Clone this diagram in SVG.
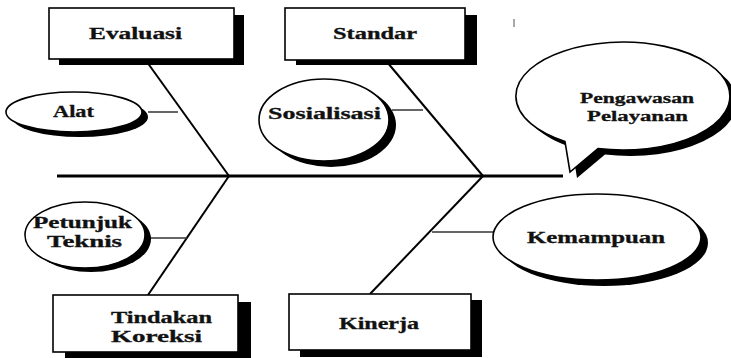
<svg xmlns="http://www.w3.org/2000/svg" width="731" height="358" viewBox="0 0 731 358">
  <style>
    .box { fill: #fff; stroke: #000; stroke-width: 1.6; }
    .shadow { fill: #000; stroke: none; }
    .oval { fill: #fff; stroke: #000; stroke-width: 1.6; }
    .lbl { font-family: "Liberation Serif", "Times New Roman", serif; font-weight: bold; font-size: 16.5px; fill: #111; stroke: #111; stroke-width: 0.3; }
    .lbl2 { font-size: 15.5px; }
    .spine { stroke: #000; stroke-width: 3; fill: none; }
    .bone { stroke: #000; stroke-width: 2; fill: none; }
    .rib { stroke: #333; stroke-width: 1.5; fill: none; }
  </style>

  <rect width="731" height="358" fill="#fff"/>

  <!-- connectors: spine, main bones and small ribs -->
  <g id="connectors">
    <line class="spine" x1="57" y1="176" x2="563" y2="176"/>
    <line class="bone" x1="147" y1="62" x2="229" y2="176"/>
    <line class="bone" x1="387" y1="62" x2="483" y2="176"/>
    <line class="bone" x1="229" y1="176" x2="148" y2="295"/>
    <line class="bone" x1="483" y1="176" x2="370" y2="294"/>
    <line class="rib" x1="148" y1="112" x2="178" y2="112"/>
    <line class="rib" x1="392" y1="110" x2="423" y2="110"/>
    <line class="rib" x1="150" y1="238" x2="187" y2="238"/>
    <line class="rib" x1="432" y1="232" x2="495" y2="232"/>
  </g>

  <!-- labels are stretched horizontally: scale(1.5,1) with textLength in local units -->
  <g id="evaluasi">
    <rect class="shadow" x="59" y="15" width="185" height="50"/>
    <rect class="box" x="49" y="8" width="185" height="51"/>
    <text class="lbl" transform="translate(135.5,39) scale(1.5,1)" text-anchor="middle" textLength="62" lengthAdjust="spacingAndGlyphs">Evaluasi</text>
  </g>

  <g id="standar">
    <rect class="shadow" x="296" y="15" width="181" height="50"/>
    <rect class="box" x="285" y="8" width="180" height="52"/>
    <text class="lbl" transform="translate(375,39) scale(1.5,1)" text-anchor="middle" textLength="56" lengthAdjust="spacingAndGlyphs">Standar</text>
  </g>

  <g id="alat">
    <ellipse class="shadow" cx="80" cy="117" rx="68" ry="20"/>
    <ellipse class="oval" cx="74" cy="112" rx="68" ry="20"/>
    <text class="lbl" transform="translate(73.5,117) scale(1.5,1)" text-anchor="middle" textLength="27.3" lengthAdjust="spacingAndGlyphs">Alat</text>
  </g>

  <g id="sosialisasi">
    <ellipse class="shadow" cx="331" cy="125" rx="65" ry="42"/>
    <ellipse class="oval" cx="324" cy="120" rx="65" ry="41"/>
    <text class="lbl" transform="translate(324.5,119) scale(1.5,1)" text-anchor="middle" textLength="75.3" lengthAdjust="spacingAndGlyphs">Sosialisasi</text>
  </g>

  <g id="pengawasan-pelayanan">
    <path class="shadow" d="M572,147.5 A107 54 0 1 1 605,154.6 L577,178 Z"/>
    <path class="oval" d="M565,141.5 A107 54 0 1 1 598,148.6 L570,172 Z"/>
    <text class="lbl lbl2" transform="translate(637,103) scale(1.5,1)" text-anchor="middle" textLength="76" lengthAdjust="spacingAndGlyphs">Pengawasan</text>
    <text class="lbl lbl2" transform="translate(637.5,121) scale(1.5,1)" text-anchor="middle" textLength="67.3" lengthAdjust="spacingAndGlyphs">Pelayanan</text>
  </g>

  <g id="petunjuk-teknis">
    <ellipse class="shadow" cx="91" cy="239" rx="60" ry="33"/>
    <ellipse class="oval" cx="85" cy="235" rx="60" ry="33"/>
    <text class="lbl" transform="translate(82.5,228) scale(1.5,1)" text-anchor="middle" textLength="66" lengthAdjust="spacingAndGlyphs">Petunjuk</text>
    <text class="lbl" transform="translate(84.5,247) scale(1.5,1)" text-anchor="middle" textLength="50" lengthAdjust="spacingAndGlyphs">Teknis</text>
  </g>

  <g id="kemampuan">
    <ellipse class="shadow" cx="604" cy="243" rx="104" ry="43"/>
    <ellipse class="oval" cx="597" cy="237" rx="104" ry="43"/>
    <text class="lbl" transform="translate(596,243) scale(1.5,1)" text-anchor="middle" textLength="92" lengthAdjust="spacingAndGlyphs">Kemampuan</text>
  </g>

  <g id="tindakan-koreksi">
    <rect class="shadow" x="65" y="302" width="186" height="56"/>
    <rect class="box" x="53" y="295" width="185" height="57"/>
    <text class="lbl" transform="translate(161.5,323) scale(1.5,1)" text-anchor="middle" textLength="67.3" lengthAdjust="spacingAndGlyphs">Tindakan</text>
    <text class="lbl" transform="translate(111,342) scale(1.5,1)" textLength="60.7" lengthAdjust="spacingAndGlyphs">Koreksi</text>
  </g>

  <g id="kinerja">
    <rect class="shadow" x="300" y="300" width="182" height="57"/>
    <rect class="box" x="289" y="294" width="182" height="56"/>
    <text class="lbl" transform="translate(379,329) scale(1.5,1)" text-anchor="middle" textLength="53.3" lengthAdjust="spacingAndGlyphs">Kinerja</text>
  </g>

  <!-- small speck near top right -->
  <line x1="514" y1="19" x2="514" y2="27" stroke="#555" stroke-width="1"/>
</svg>
